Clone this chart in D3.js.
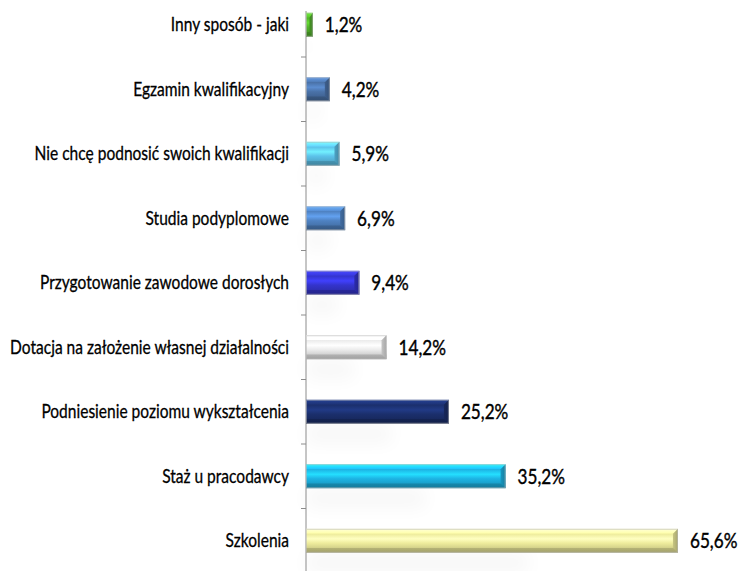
<!DOCTYPE html>
<html>
<head>
<meta charset="utf-8">
<script src="https://cdn.jsdelivr.net/npm/d3@7"></script>
<style>
  body { margin: 0; background: #fff; }
  svg { display: block; }
</style>
</head>
<body>
<div id="chart"></div>
<script>
// data
const categories = [
    "Inny sposób - jaki",
    "Egzamin kwalifikacyjny",
    "Nie chcę podnosić swoich kwalifikacji",
    "Studia podyplomowe",
    "Przygotowanie zawodowe dorosłych",
    "Dotacja na założenie własnej działalności",
    "Podniesienie poziomu wykształcenia",
    "Staż u pracodawcy",
    "Szkolenia"
];
const values = [1.2, 4.2, 5.9, 6.9, 9.4, 14.2, 25.2, 35.2, 65.6];
const barColors = ["#52b32a", "#4a72a8", "#5cc2ea", "#4f82c2", "#3434cc",
                   "#ececec", "#1b2f6c", "#1db4e4", "#eeec9c"];

const width = 738, height = 571;
const axisX = 306;
const labelRight = 289;
const barH = 24;
const bevel = 5;
const fontFamily = "Lato, 'Open Sans', sans-serif";

const svg = d3.select("#chart")
    .append("svg")
    .attr("width", width)
    .attr("height", height);

const defs = svg.append("defs");
defs.append("filter")
    .attr("id", "soft")
    .attr("x", "-50%").attr("y", "-100%")
    .attr("width", "200%").attr("height", "300%")
    .append("feGaussianBlur")
    .attr("stdDeviation", 9);

// scales
const x = d3.scaleLinear()
    .domain([0, 70])
    .range([axisX, axisX + 70 * 5.67]);

const y = d3.scaleBand()
    .domain(categories)
    .range([-7.5, 573])
    .paddingInner(0);

const loc = d3.formatLocale({ decimal: ",", thousands: " ", grouping: [3], currency: ["", ""] });
const fmt = v => loc.format(".1f")(v) + "%";

// gradients for each bar
barColors.forEach((c, i) => {
    const base = d3.color(c);
    const g = defs.append("linearGradient")
        .attr("id", "face" + i)
        .attr("x1", 0).attr("y1", 0).attr("x2", 0).attr("y2", 1);
    g.append("stop").attr("offset", "0%").attr("stop-color", base.brighter(0.9));
    g.append("stop").attr("offset", "18%").attr("stop-color", base.brighter(0.3));
    g.append("stop").attr("offset", "22%").attr("stop-color", base);
    g.append("stop").attr("offset", "42%").attr("stop-color", base.brighter(0.6));
    g.append("stop").attr("offset", "60%").attr("stop-color", base);
    g.append("stop").attr("offset", "78%").attr("stop-color", base.darker(0.3));
    g.append("stop").attr("offset", "82%").attr("stop-color", base.darker(0.8));
    g.append("stop").attr("offset", "100%").attr("stop-color", base.darker(1.1));

    const e = defs.append("linearGradient")
        .attr("id", "end" + i)
        .attr("x1", 0).attr("y1", 0).attr("x2", 1).attr("y2", 0);
    e.append("stop").attr("offset", "0%").attr("stop-color", base.darker(0.5));
    e.append("stop").attr("offset", "100%").attr("stop-color", base.darker(1.0));
});

// soft shadows under bars
svg.append("g")
    .selectAll("rect")
    .data(values)
    .join("rect")
    .attr("x", axisX)
    .attr("y", (d, i) => y(categories[i]) + y.bandwidth() / 2 + barH / 2)
    .attr("width", d => (x(d) - axisX) * 0.6)
    .attr("height", 20)
    .attr("fill", "#000")
    .attr("opacity", 0.03)
    .attr("filter", "url(#soft)");

// axis
svg.append("line")
    .attr("x1", axisX).attr("x2", axisX)
    .attr("y1", 11).attr("y2", height)
    .attr("stroke", "#8c8c8c")
    .attr("stroke-width", 1);

svg.append("g")
    .selectAll("line")
    .data(categories.slice(1))
    .join("line")
    .attr("x1", axisX - 5).attr("x2", axisX)
    .attr("y1", d => y(d)).attr("y2", d => y(d))
    .attr("stroke", "#8c8c8c");

// bars
const bars = svg.append("g")
    .selectAll("g")
    .data(values)
    .join("g")
    .attr("transform", (d, i) => `translate(0,${y(categories[i]) + y.bandwidth() / 2 - barH / 2})`);

bars.append("rect")
    .attr("x", axisX)
    .attr("y", 0)
    .attr("width", d => x(d) - axisX)
    .attr("height", barH)
    .attr("fill", (d, i) => `url(#face${i})`);

bars.append("path")
    .attr("d", d => {
        const x1 = x(d);
        const b = Math.min(bevel, (x1 - axisX) / 2);
        return `M${x1 - b},${bevel}L${x1},0L${x1},${barH}L${x1 - b},${barH - bevel}Z`;
    })
    .attr("fill", (d, i) => `url(#end${i})`);

bars.append("rect")
    .attr("x", axisX + 0.5)
    .attr("y", 0.5)
    .attr("width", d => x(d) - axisX - 1)
    .attr("height", barH - 1)
    .attr("fill", "none")
    .attr("stroke", "#b8b8b8")
    .attr("stroke-opacity", 0.6);

// category labels (narrowed so the longest fits the left margin)
const labels = svg.append("g")
    .selectAll("text")
    .data(categories)
    .join("text")
    .attr("text-anchor", "end")
    .attr("dy", "0.35em")
    .style("font-family", fontFamily)
    .style("font-size", "19px")
    .style("fill", "#000")
    .style("stroke", "#000")
    .style("stroke-width", 0.3)
    .text(d => d);

const longest = d3.max(labels.nodes(), n => n.getComputedTextLength());
const squeeze = (labelRight - 10) / longest;

labels.attr("transform", d => `translate(${labelRight},${y(d) + y.bandwidth() / 2}) scale(${squeeze},1)`);

// value labels
svg.append("g")
    .selectAll("text")
    .data(values)
    .join("text")
    .attr("transform", (d, i) => `translate(${x(d) + 12},${y(categories[i]) + y.bandwidth() / 2}) scale(${squeeze},1)`)
    .attr("dy", "0.35em")
    .style("font-family", fontFamily)
    .style("font-size", "21px")
    .style("fill", "#000")
    .style("stroke", "#000")
    .style("stroke-width", 0.4)
    .text(d => fmt(d));
</script>
</body>
</html>
